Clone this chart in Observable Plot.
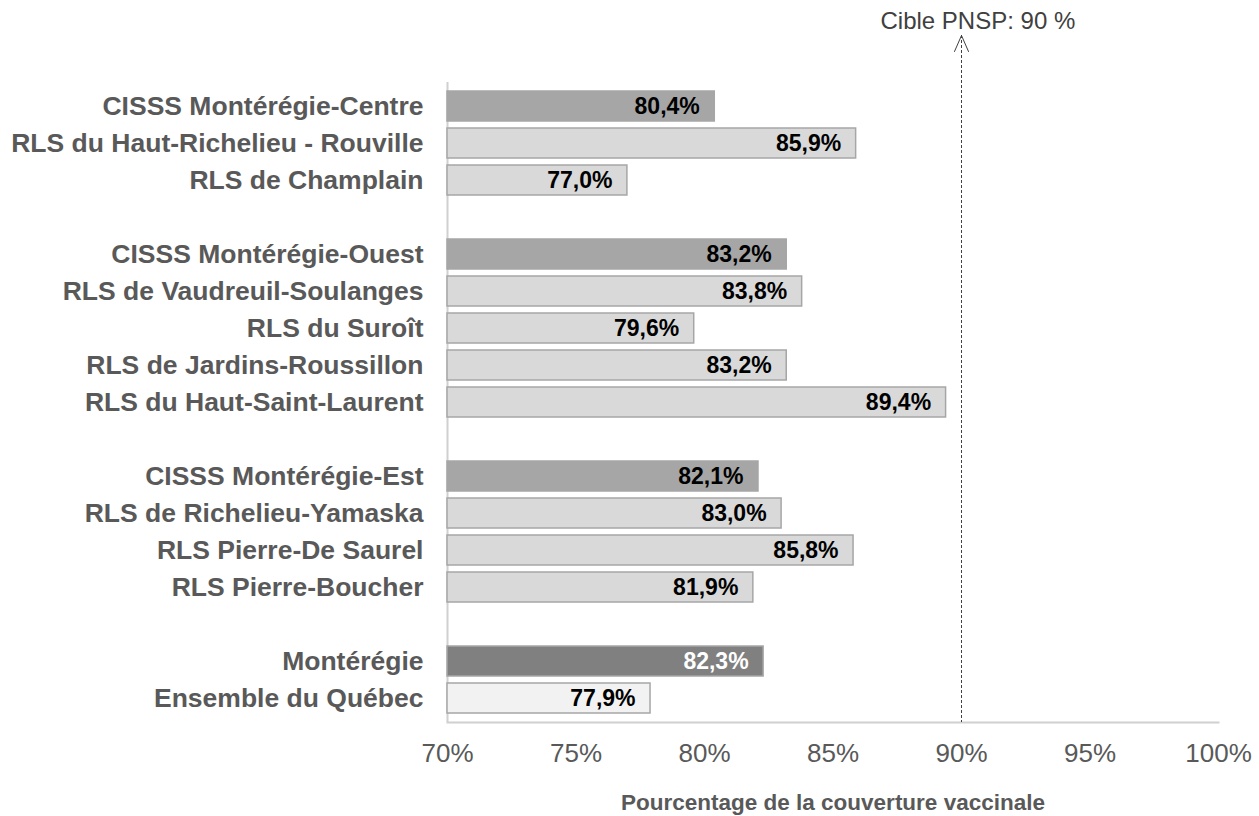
<!DOCTYPE html>
<html>
<head>
<meta charset="utf-8">
<script src="https://cdn.jsdelivr.net/npm/d3@7"></script>
<script src="https://cdn.jsdelivr.net/npm/@observablehq/plot@0.6"></script>
<style>
  html, body { margin: 0; padding: 0; background: #fff; }
  #chart svg { display: block; font-family: "Liberation Sans", Arial, sans-serif; }
</style>
</head>
<body>
<div id="chart"></div>
<script>
// Categories (top to bottom)
const labels = [
  "CISSS Montérégie-Centre",
  "RLS du Haut-Richelieu - Rouville",
  "RLS de Champlain",
  "CISSS Montérégie-Ouest",
  "RLS de Vaudreuil-Soulanges",
  "RLS du Suroît",
  "RLS de Jardins-Roussillon",
  "RLS du Haut-Saint-Laurent",
  "CISSS Montérégie-Est",
  "RLS de Richelieu-Yamaska",
  "RLS Pierre-De Saurel",
  "RLS Pierre-Boucher",
  "Montérégie",
  "Ensemble du Québec"
];
// Coverage (%)
const values = [80.4, 85.9, 77.0, 83.2, 83.8, 79.6, 83.2, 89.4, 82.1, 83.0, 85.8, 81.9, 82.3, 77.9];
// Level of each row
const levels = ["cisss", "rls", "rls", "cisss", "rls", "rls", "rls", "rls", "cisss", "rls", "rls", "rls", "region", "quebec"];
// Order of rows on the y axis, including blank separators
const rowOrder = [
  "CISSS Montérégie-Centre", "RLS du Haut-Richelieu - Rouville", "RLS de Champlain", " ",
  "CISSS Montérégie-Ouest", "RLS de Vaudreuil-Soulanges", "RLS du Suroît", "RLS de Jardins-Roussillon", "RLS du Haut-Saint-Laurent", "  ",
  "CISSS Montérégie-Est", "RLS de Richelieu-Yamaska", "RLS Pierre-De Saurel", "RLS Pierre-Boucher", "   ",
  "Montérégie", "Ensemble du Québec"
];
const xTicks = [0.70, 0.75, 0.80, 0.85, 0.90, 0.95, 1.00];
const target = 0.90;
const targetLabel = "Cible PNSP: 90 %";
const axisTitle = "Pourcentage de la couverture vaccinale";

const data = labels.map((name, i) => ({name, value: values[i] / 100, level: levels[i]}));
const fmt = v => (v * 100).toFixed(1).replace(".", ",") + "%";

const arrowHead = {
  draw(context, l, r) {
    context.moveTo(-7, 16);
    context.lineTo(0, 0);
    context.lineTo(7, 16);
  }
};

const chart = Plot.plot({
  width: 1259,
  height: 816,
  marginLeft: 447,
  marginRight: 41,
  marginTop: 35,
  marginBottom: 94,
  style: {fontFamily: "Liberation Sans, Arial, sans-serif", background: "#fff"},
  x: {domain: [0.70, 1.00]},
  y: {domain: rowOrder, range: [82.15, 723], paddingInner: 0.18, paddingOuter: 0.09, axis: null},
  color: {
    domain: ["cisss", "rls", "region", "quebec"],
    range: ["#a6a6a6", "#d9d9d9", "#808080", "#f2f2f2"]
  },
  marks: [
    Plot.frame({anchor: "bottom", stroke: "#d0d0d0", strokeWidth: 2}),
    Plot.ruleX([0.70], {stroke: "#d0d0d0", strokeWidth: 2, insetTop: 47}),
    Plot.ruleX([target], {stroke: "#404040", strokeWidth: 1, strokeDasharray: "3,2"}),
    Plot.vector([target], {x: d => d, frameAnchor: "top", length: 16, rotate: 0, anchor: "start", shape: arrowHead, stroke: "#404040", strokeWidth: 1, fill: "none"}),
    Plot.text([targetLabel], {x: () => target, frameAnchor: "top", lineAnchor: "middle", dy: -14, dx: -81, textAnchor: "start", fontSize: 24, fill: "#404040"}),
    Plot.barX(data, {y: "name", x1: 0.70, x2: "value", fill: "level", stroke: "#a6a6a6", strokeWidth: 1.5}),
    Plot.text(data, {y: "name", x: "value", text: d => fmt(d.value), textAnchor: "end", dx: -15, fontSize: 23, fontWeight: "bold", fill: d => d.level === "region" ? "#ffffff" : "#000000"}),
    Plot.axisY({domain: rowOrder, tickSize: 0, tickPadding: 24, fontSize: 26.5, fontWeight: "bold", color: "#595959", label: null}),
    Plot.axisX({ticks: xTicks, tickFormat: d => Math.round(d * 100) + "%", tickSize: 0, tickPadding: 21, fontSize: 26, color: "#595959", label: null}),
    Plot.text([axisTitle], {frameAnchor: "bottom", lineAnchor: "middle", dy: 80, fontSize: 22.5, fontWeight: "bold", fill: "#595959"})
  ]
});
document.getElementById("chart").appendChild(chart);
</script>
</body>
</html>
